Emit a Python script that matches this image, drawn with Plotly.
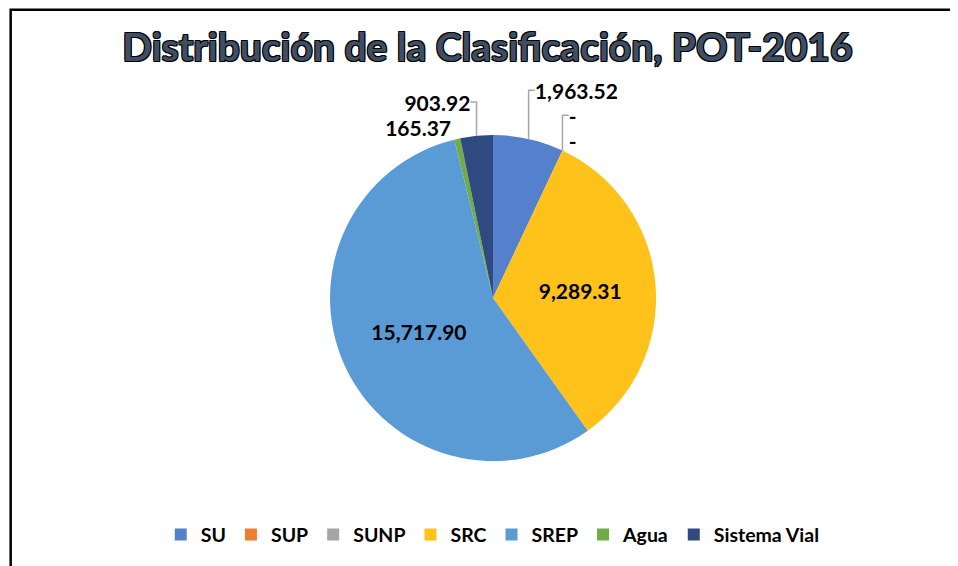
import plotly.graph_objects as go

categories = ["SU", "SUP", "SUNP", "SRC", "SREP", "Agua", "Sistema Vial"]
values = [1963.52, 0, 0, 9289.31, 15717.90, 165.37, 903.92]
colors = ["#5580CC", "#ED7D31", "#A5A5A5", "#FFC21A", "#5B9BD5", "#70AD47", "#2E4A80"]
title_text = "Distribución de la Clasificación, POT-2016"


def fmt(v):
    return "-" if v == 0 else f"{v:,.2f}"


labels_text = [fmt(v) for v in values]
positions = ["outside", "outside", "outside", "inside", "inside", "outside", "outside"]

fig = go.Figure(
    go.Pie(
        labels=categories,
        values=values,
        text=labels_text,
        textinfo="text",
        textposition=positions,
        sort=False,
        direction="clockwise",
        rotation=0,
        marker=dict(colors=colors, line=dict(color="white", width=0)),
        textfont=dict(family="Lato", size=21, color="black", weight="bold"),
        insidetextorientation="horizontal",
        showlegend=True,
        domain=dict(x=[0.24, 0.7726], y=[0.1996, 0.7756]),
        hoverinfo="label+value",
    )
)

fig.update_layout(
    width=958,
    height=566,
    paper_bgcolor="white",
    plot_bgcolor="white",
    margin=dict(l=0, r=0, t=0, b=0),
    title=dict(
        text=title_text,
        x=0.5005,
        xanchor="center",
        y=0.931,
        yanchor="middle",
        font=dict(family="Lato", size=39, color="#3F4E63", weight="bold",
                  shadow="1px 1px 0 #000, -1px -1px 0 #000, 1px -1px 0 #000, -1px 1px 0 #000"),
    ),
    legend=dict(
        orientation="h",
        x=0.506,
        xanchor="center",
        y=0.069,
        yanchor="middle",
        font=dict(family="Lato", size=19.5, color="black", weight="bold"),
        itemwidth=30,
        traceorder="normal",
    ),
    shapes=[
        dict(type="rect", xref="paper", yref="paper", x0=0.0028, x1=1.05, y0=-0.05, y1=0.997,
             line=dict(color="black", width=2.5), fillcolor="rgba(0,0,0,0)", layer="above"),
    ],
)

leader_style = (
    "document.querySelectorAll('path.textline').forEach(function(p){"
    "p.style.stroke='#A6A6A6'; p.style.strokeWidth='1.5px';});"
)

fig.write_html("out.html", post_script=leader_style)
